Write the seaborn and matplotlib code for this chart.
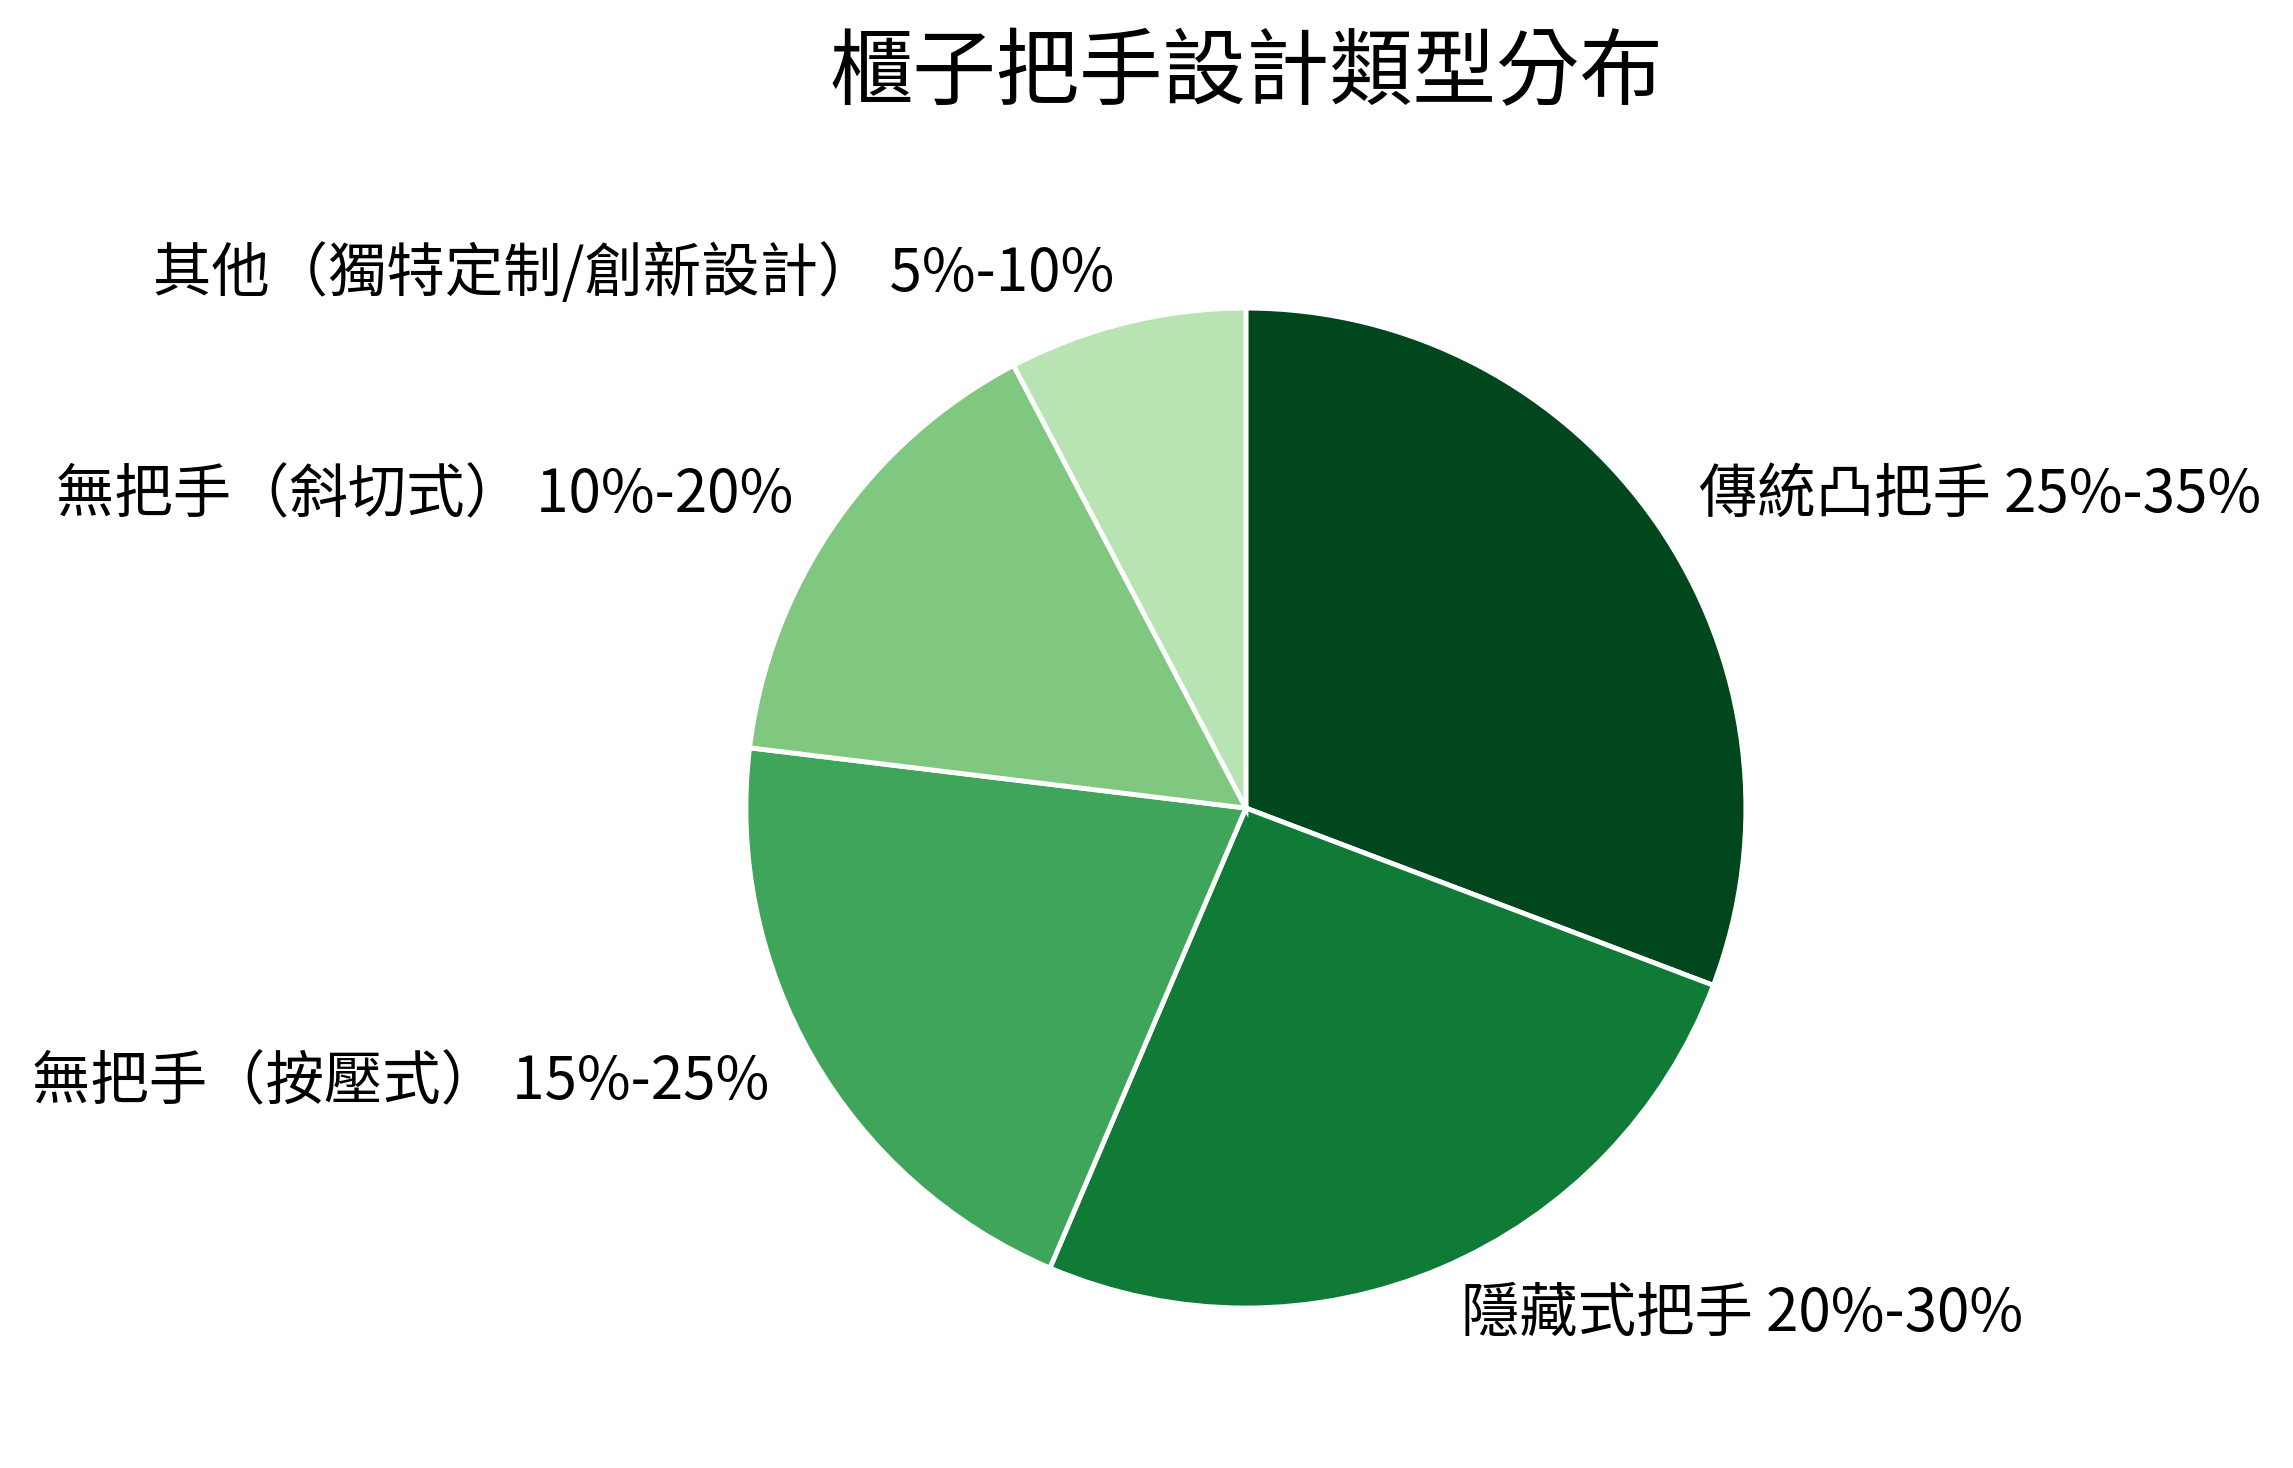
import matplotlib
matplotlib.use("Agg")
import matplotlib.pyplot as plt
import seaborn as sns

# data
labels = ['傳統凸把手 25%-35%', '隱藏式把手 20%-30%', '無把手（按壓式） 15%-25%',
          '無把手（斜切式） 10%-20%', '其他（獨特定制/創新設計） 5%-10%']
values = [30, 25, 20, 15, 7.5]
colors = ['#00471e', '#107a37', '#3fa55b', '#80c880', '#b8e3b3']
title = '櫃子把手設計類型分布'

sns.set_theme(style='white')
plt.rcParams['font.family'] = ['Noto Sans CJK TC', 'DejaVu Sans']
plt.rcParams['text.color'] = 'black'

fig = plt.figure(figsize=(22.93, 14.68), dpi=100)
ax = fig.add_axes([0.2708, 0.0238, 0.5451, 0.8515])

ax.pie(values, labels=labels, colors=sns.color_palette(colors),
       startangle=90, counterclock=False, labeldistance=1.1,
       wedgeprops={'edgecolor': 'white', 'linewidth': 3.5},
       textprops={'fontsize': 42, 'color': 'black'})
ax.set_xlim(-1.25, 1.25)
ax.set_ylim(-1.25, 1.25)
ax.set_aspect('equal')
ax.axis('off')

fig.text(0.5434, 0.9495, title, ha='center', va='center', fontsize=60, color='black')

fig.savefig('out.png', dpi=100)
